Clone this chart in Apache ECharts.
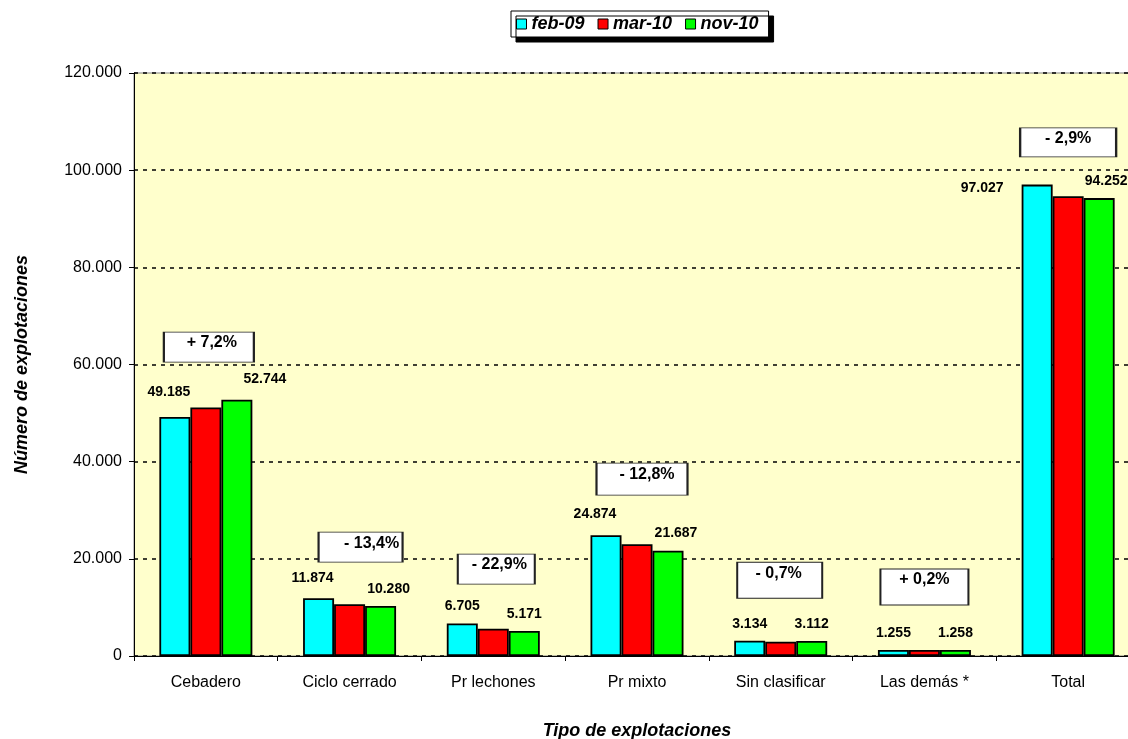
<!DOCTYPE html>
<html lang="es">
<head>
    <meta charset="utf-8">
    <title>Explotaciones</title>
    <script src="https://cdn.jsdelivr.net/npm/echarts@6/dist/echarts.min.js"></script>
    <style type="text/css">
        html, body { margin: 0; padding: 0; overflow: hidden; background: #fff; }
        #container { width: 1140px; height: 739px; }
    </style>
</head>
<body>
<div id="container"></div>
<script>
    // categorias y series
    var categorias = ['Cebadero', 'Ciclo cerrado', 'Pr lechones', 'Pr mixto', 'Sin clasificar', 'Las demás *', 'Total'];
    var feb09 = [49185, 11874, 6705, 24874, 3134, 1255, 97027];
    var mar10 = [51150, 10650, 5600, 23000, 2950, 1245, 94650];
    var nov10 = [52744, 10280, 5171, 21687, 3112, 1258, 94252];
    var yTicks = [0, 20000, 40000, 60000, 80000, 100000, 120000];

    // cajas de variacion (texto y altura del centro de la caja)
    var varTextos = ['+ 7,2%', '- 13,4%', '- 22,9%', '- 12,8%', '- 0,7%', '+ 0,2%', '- 2,9%'];
    var varAltura = [63600, 22400, 17900, 36400, 15600, 14200, 105700];

    // ajustes de colocacion (solo estilo)
    var cajaTam = [[90, 30], [84, 30], [77, 30], [91, 32], [85, 36], [88, 36], [96, 29]];
    var cajaDx = [3, 11, 3, 5, -1, 0, 0];
    var febShift = [[-6, -8], [-6, -3], [0, 0], [-11, -4], [0, 0], [0, 0], [-55, 21]];
    var novShift = [[28, -4], [8, 0], [0, 0], [8, 0], [0, 0], [0, 0], [7, 0]];

    function miles(v) {
        return String(v).replace(/\B(?=(\d{3})+(?!\d))/g, '.');
    }

    function conEtiquetas(arr, shift) {
        return arr.map(function (v, i) {
            return { value: v, label: { offset: shift[i] } };
        });
    }

    var fuente = '"Liberation Sans", Arial, sans-serif';
    var borde = { borderColor: '#000', borderWidth: 1.8 };
    var etiqueta = {
        show: true, position: 'top', distance: 10,
        fontFamily: fuente, fontSize: 14, fontWeight: 'bold', color: '#000',
        formatter: function (p) { return miles(p.value); }
    };
    var titulo = { fontFamily: fuente, fontSize: 18, fontWeight: 'bold', fontStyle: 'italic', color: '#000' };

    var cajas = varAltura.map(function (v, i) {
        var h = cajaTam[i][1];
        return {
            value: [i, v],
            symbolSize: cajaTam[i],
            symbolOffset: [cajaDx[i], 0],
            label: { formatter: varTextos[i], offset: [cajaDx[i], 11 - h / 2] }
        };
    });

    var dom = document.getElementById('container');
    var myChart = echarts.init(dom);
    var option = {
        animation: false,
        legend: {
            data: ['feb-09', 'mar-10', 'nov-10'],
            left: 511, top: 11,
            padding: [4, 10, 4, 5],
            itemGap: 13, itemWidth: 10, itemHeight: 10,
            icon: 'rect',
            itemStyle: { borderColor: '#000', borderWidth: 1 },
            backgroundColor: '#fff', borderColor: '#000', borderWidth: 1,
            shadowColor: '#000', shadowOffsetX: 5, shadowOffsetY: 5, shadowBlur: 0,
            textStyle: titulo
        },
        grid: {
            left: 134, right: 0, top: 73, bottom: 83,
            outerBoundsMode: 'none',
            show: true, backgroundColor: '#FFFFCC', borderColor: '#808080', borderWidth: 1
        },
        xAxis: {
            type: 'category',
            data: categorias,
            name: 'Tipo de explotaciones',
            nameLocation: 'middle', nameGap: 66,
            nameTextStyle: titulo,
            axisLine: { lineStyle: { color: '#000', width: 1 } },
            axisTick: { show: true, length: 5, lineStyle: { color: '#000' } },
            axisLabel: { fontFamily: fuente, fontSize: 16, color: '#000', margin: 19 },
            splitLine: { show: false }
        },
        yAxis: {
            type: 'value',
            min: yTicks[0], max: yTicks[yTicks.length - 1], interval: 20000,
            name: 'Número de explotaciones',
            nameLocation: 'middle', nameGap: 103,
            nameTextStyle: titulo,
            axisLine: { show: true, lineStyle: { color: '#000', width: 1 } },
            axisTick: { show: true, length: 5, lineStyle: { color: '#000' } },
            axisLabel: { fontFamily: fuente, fontSize: 16, color: '#000', margin: 12, formatter: miles },
            splitLine: { show: true, lineStyle: { color: '#000', type: [4, 5], width: 1.5 } }
        },
        series: [
            {
                name: 'feb-09', type: 'bar', barWidth: 31, barGap: '0%',
                itemStyle: Object.assign({ color: '#00FFFF' }, borde),
                label: etiqueta,
                data: conEtiquetas(feb09, febShift)
            },
            {
                name: 'mar-10', type: 'bar', barWidth: 31, barGap: '0%',
                itemStyle: Object.assign({ color: '#FF0000' }, borde),
                data: mar10
            },
            {
                name: 'nov-10', type: 'bar', barWidth: 31, barGap: '0%',
                itemStyle: Object.assign({ color: '#00FF00' }, borde),
                label: etiqueta,
                data: conEtiquetas(nov10, novShift)
            },
            {
                name: 'variacion', type: 'scatter', symbol: 'rect', z: 5,
                itemStyle: { color: '#fff', borderColor: '#222', borderWidth: 1.3, opacity: 1 },
                label: { show: true, position: 'inside', fontFamily: fuente, fontSize: 16, fontWeight: 'bold', color: '#000' },
                emphasis: { disabled: true },
                data: cajas
            }
        ]
    };
    myChart.setOption(option, true);
</script>
</body>
</html>
